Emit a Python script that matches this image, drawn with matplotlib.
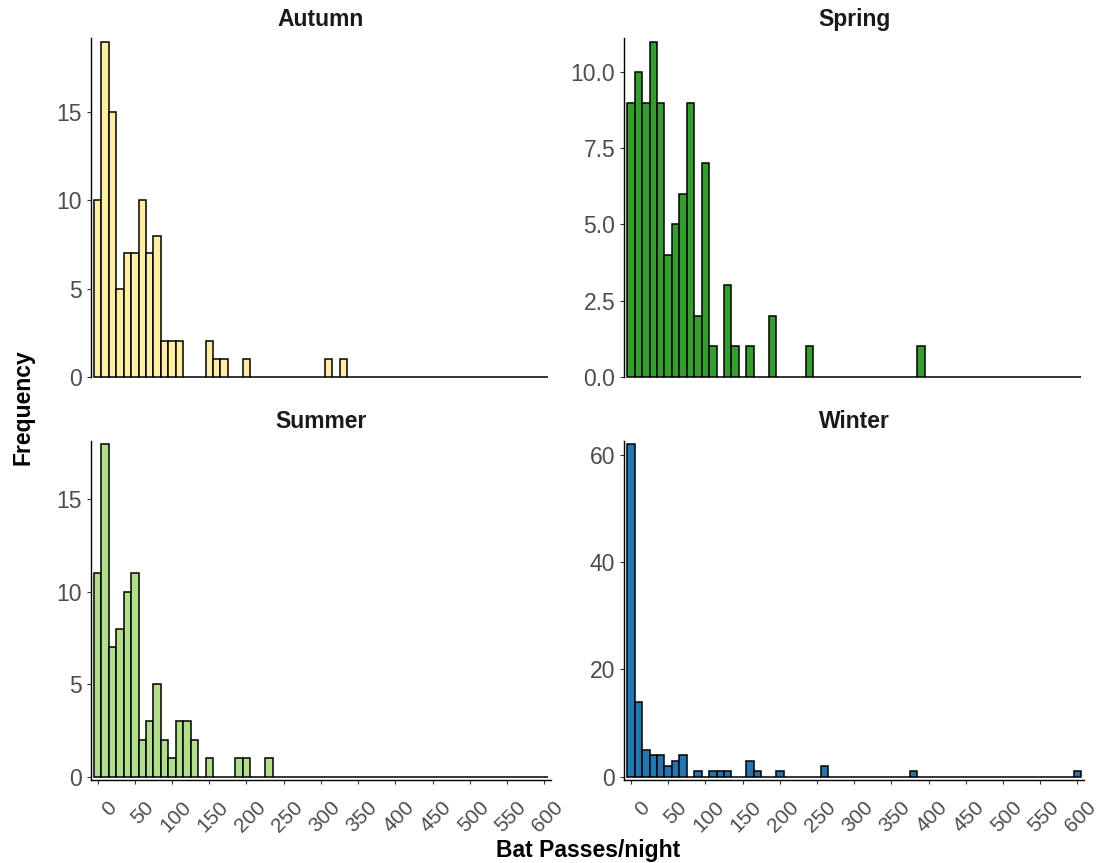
import numpy as np
import matplotlib.pyplot as plt
from matplotlib.transforms import ScaledTranslation

plt.rcParams['font.family'] = ['Liberation Sans', 'DejaVu Sans']

# histogram bins of width 10, centred on 0, 10, ..., 600
bin_width = 10
bin_centers = np.arange(0, 601, bin_width)

seasons = ['Autumn', 'Spring', 'Summer', 'Winter']
fills = ['#FFEDA0', '#33A02C', '#B2DF8A', '#1F78B4']

# non-empty bins (bin centre) and number of nights in each
autumn_x = [0, 10, 20, 30, 40, 50, 60, 70, 80, 90, 100, 110, 150, 160, 170, 200, 310, 330]
autumn_n = [10, 19, 15, 5, 7, 7, 10, 7, 8, 2, 2, 2, 2, 1, 1, 1, 1, 1]

spring_x = [0, 10, 20, 30, 40, 50, 60, 70, 80, 90, 100, 110, 130, 140, 160, 190, 240, 390]
spring_n = [9, 10, 9, 11, 9, 4, 5, 6, 9, 2, 7, 1, 3, 1, 1, 2, 1, 1]

summer_x = [0, 10, 20, 30, 40, 50, 60, 70, 80, 90, 100, 110, 120, 130, 150, 190, 200, 230]
summer_n = [11, 18, 7, 8, 10, 11, 2, 3, 5, 2, 1, 3, 3, 2, 1, 1, 1, 1]

winter_x = [0, 10, 20, 30, 40, 50, 60, 70, 90, 110, 120, 130, 160, 170, 200, 260, 380, 600]
winter_n = [62, 14, 5, 4, 4, 2, 3, 4, 1, 1, 1, 1, 3, 1, 1, 2, 1, 1]

x_ticks = list(range(0, 601, 50))
y_ticks = {
    'Autumn': [0, 5, 10, 15],
    'Spring': [0, 2.5, 5, 7.5, 10],
    'Summer': [0, 5, 10, 15],
    'Winter': [0, 20, 40, 60],
}
y_fmt = {'Autumn': '{:.0f}', 'Spring': '{:.1f}', 'Summer': '{:.0f}', 'Winter': '{:.0f}'}

data = {
    'Autumn': (autumn_x, autumn_n),
    'Spring': (spring_x, spring_n),
    'Summer': (summer_x, summer_n),
    'Winter': (winter_x, winter_n),
}

fig = plt.figure(figsize=(11.01, 8.63), dpi=100)

W, H = 1101, 863
lefts = [91 / W, 624.3 / W]
width = 459.8 / W
rows = [((H - 376.7) / H, 338.4 / H), ((H - 776.7) / H, 336.0 / H)]

tick_col = '#333333'
lab_col = '#4D4D4D'
fs = 16.5

for i, season in enumerate(seasons):
    r, c = divmod(i, 2)
    bottom, height = rows[r]
    ax = fig.add_axes([lefts[c], bottom, width, height])

    xs, ns = data[season]
    counts = np.zeros(len(bin_centers))
    for x, n in zip(xs, ns):
        counts[x // bin_width] = n

    ax.bar(bin_centers, counts, width=bin_width, color=fills[i],
           edgecolor='black', linewidth=1.1, zorder=2, clip_on=False)

    ytop = max(ns) * 1.01
    ax.set_xlim(-9, 609)
    ax.set_ylim(0, ytop)

    for s in ['top', 'right']:
        ax.spines[s].set_visible(False)
    ax.spines['left'].set_linewidth(1.0)
    ax.spines['left'].set_color('black')

    ax.set_yticks(y_ticks[season])
    ax.set_yticklabels([y_fmt[season].format(v) for v in y_ticks[season]])
    ax.tick_params(axis='y', length=2.9, width=0.8, color=tick_col,
                   labelsize=fs, labelcolor=lab_col, pad=3.6)

    ax.annotate(season, xy=(0.5, 1), xycoords='axes fraction',
                xytext=(0, 9), textcoords='offset points',
                ha='center', va='baseline', fontsize=fs, fontweight='bold',
                color='#1A1A1A')

    if r == 0:
        ax.spines['bottom'].set_visible(False)
        ax.set_xticks([])
    else:
        # axis line sits a few pixels under the bar baseline
        per_px = ytop / (height * H)
        ax.spines['left'].set_bounds(-3 * per_px, ytop)
        ax.spines['bottom'].set_position(('outward', 2.2))
        ax.spines['bottom'].set_linewidth(1.0)
        ax.spines['bottom'].set_color('black')
        ax.set_xticks(x_ticks)
        ax.set_xticklabels([str(t) for t in x_ticks])
        ax.tick_params(axis='x', length=2.9, width=0.8, color=tick_col,
                       labelsize=15, labelcolor=lab_col, pad=15)
        shift = ScaledTranslation(16 / 100, 0, fig.dpi_scale_trans)
        for lab in ax.get_xticklabels():
            lab.set_rotation(45)
            lab.set_ha('right')
            lab.set_va('center')
            lab.set_rotation_mode('anchor')
            lab.set_transform(lab.get_transform() + shift)

fig.text(588 / W, 1 - 850 / H, 'Bat Passes/night', ha='center', va='center',
         fontsize=fs, fontweight='bold')
fig.text(23 / W, 1 - 407 / H, 'Frequency', ha='center', va='center',
         rotation=90, fontsize=fs, fontweight='bold')

fig.savefig('out.png', dpi=100)
